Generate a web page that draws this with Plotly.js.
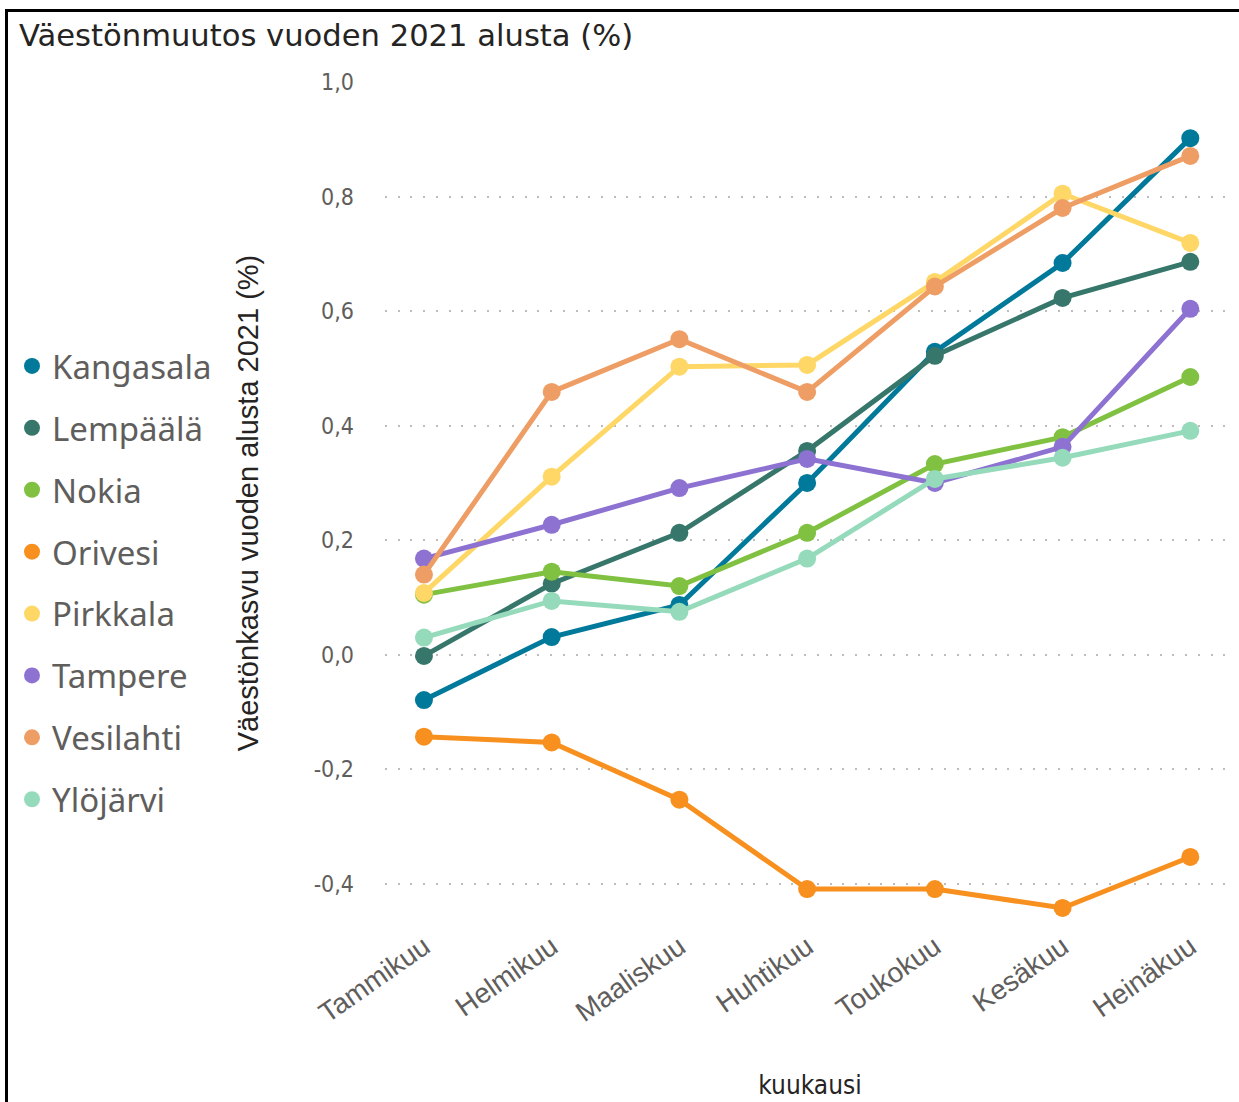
<!DOCTYPE html>
<html>
<head>
<meta charset="utf-8">
<script src="https://cdn.plot.ly/plotly-3.0.1.min.js"></script>
<style>
html,body{margin:0;padding:0;background:#fff;}
#chart{position:absolute;left:0;top:0;width:1239px;height:1102px;}
#frame{position:absolute;left:5px;top:9px;width:1240px;height:1100px;border-left:3px solid #000;border-top:3px solid #000;pointer-events:none;}
</style>
</head>
<body>
<div id="chart"></div>
<div id="frame"></div>
<script>
const months = ["Tammikuu","Helmikuu","Maaliskuu","Huhtikuu","Toukokuu","Kesäkuu","Heinäkuu"];
const seriesNames = ["Kangasala","Lempäälä","Nokia","Orivesi","Pirkkala","Tampere","Vesilahti","Ylöjärvi"];
const kangasala = [-0.079, 0.031, 0.087, 0.300, 0.529, 0.684, 0.902];
const lempaala  = [-0.002, 0.124, 0.213, 0.356, 0.522, 0.623, 0.686];
const nokia     = [0.105, 0.145, 0.120, 0.213, 0.333, 0.380, 0.485];
const orivesi   = [-0.143, -0.153, -0.253, -0.409, -0.409, -0.442, -0.353];
const pirkkala  = [0.108, 0.311, 0.503, 0.506, 0.651, 0.805, 0.719];
const tampere   = [0.168, 0.227, 0.291, 0.342, 0.300, 0.363, 0.604];
const vesilahti = [0.140, 0.459, 0.551, 0.459, 0.643, 0.780, 0.871];
const ylojarvi  = [0.030, 0.094, 0.075, 0.168, 0.307, 0.344, 0.391];
const yTickVals = [-0.4, -0.2, 0.0, 0.2, 0.4, 0.6, 0.8, 1.0];
const yTickText = ["-0,4","-0,2","0,0","0,2","0,4","0,6","0,8","1,0"];

const values = [kangasala, lempaala, nokia, orivesi, pirkkala, tampere, vesilahti, ylojarvi];
const colors = ["#01799A","#37776B","#80C141","#F7901E","#FED766","#8D72D2","#EE9E64","#95DABB"];

const traces = [];
seriesNames.forEach((name, i) => {
  traces.push({
    type: "scatter", mode: "lines+markers", name: name,
    x: months, y: values[i],
    line: {color: colors[i], width: 5},
    marker: {color: colors[i], size: 18},
    showlegend: false, legendgroup: "g" + i
  });
});
seriesNames.forEach((name, i) => {
  traces.push({
    type: "scatter", mode: "markers", name: name,
    x: [null], y: [null],
    marker: {color: colors[i], size: 20},
    showlegend: true, legendgroup: "g" + i
  });
});

const W = 1239, H = 1102;
const plotL = 385, plotR = 1235, plotT = 82, plotB = 924;

const layout = {
  width: W, height: H,
  paper_bgcolor: "#fff", plot_bgcolor: "#fff",
  margin: {l: plotL, r: W - plotR, t: plotT, b: H - plotB, pad: 0},
  title: {
    text: "Väestönmuutos vuoden 2021 alusta (%)",
    font: {family: "DejaVu Sans", size: 30.6, color: "#252423"},
    x: 19 / W, xanchor: "left", xref: "container",
    y: 1 - 35 / H, yanchor: "middle", yref: "container"
  },
  xaxis: {
    type: "category",
    range: [-0.305, 6.35],
    showgrid: false, zeroline: false, showline: false,
    ticks: "",
    tickangle: -35,
    tickfont: {family: "Liberation Sans", size: 28, color: "#605E5C"},
    title: {text: "kuukausi", font: {family: "DejaVu Sans Condensed", size: 26, color: "#252423"}, standoff: 48}
  },
  yaxis: {
    range: [-0.47, 1.0],
    tickvals: yTickVals, ticktext: yTickText,
    showgrid: true, gridcolor: "#BEBCBA", gridwidth: 2, griddash: "2px,10.7px",
    zeroline: false, showline: false, ticks: "",
    ticklabelstandoff: 30,
    tickfont: {family: "DejaVu Sans Condensed", size: 23, color: "#605E5C"},
    title: {text: "Väestönkasvu vuoden alusta 2021 (%)", font: {family: "Liberation Sans", size: 29, color: "#252423"}, standoff: 46}
  },
  showlegend: true,
  legend: {
    x: 12 / W, xref: "container", xanchor: "left",
    y: 1 - 338 / H, yref: "container", yanchor: "top",
    font: {family: "Noto Sans", size: 33, color: "#605E5C"},
    tracegroupgap: 16,
    itemwidth: 30,
    bgcolor: "rgba(0,0,0,0)"
  },
  hovermode: "closest"
};

Plotly.newPlot("chart", traces, layout, {displayModeBar: false, staticPlot: true});
</script>
</body>
</html>
